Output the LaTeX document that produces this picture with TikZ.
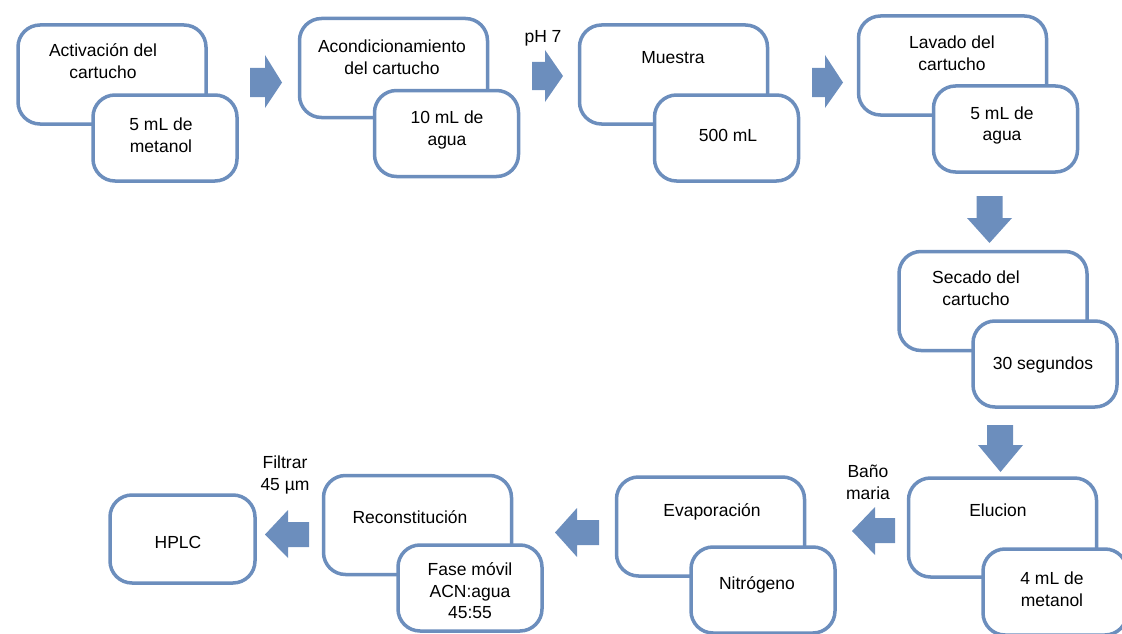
\documentclass[tikz,border=0pt]{standalone}
\usepackage{fontspec}
\setmainfont{Liberation Sans}
\definecolor{azulcaja}{RGB}{108,142,189}
\tikzset{
  caja/.style={draw=azulcaja, line width=3.5pt, rounded corners=22pt, fill=white,
    minimum width=188pt, minimum height=99pt, inner sep=0pt},
  cajita/.style={caja, minimum width=144pt, minimum height=86pt},
  texto/.style={align=center, inner sep=0pt, font=\fontsize{17.5}{21.5}\selectfont},
  flecha/.style={fill=azulcaja}
}

\begin{document}
\begin{tikzpicture}[x=1pt, y=-1pt]
\useasboundingbox (0,0) rectangle (1122,634);

% fila de arriba
\node[caja] (activ) at (112,74.5) {};
\node[cajita] (activ2) at (165,138) {};
\node[texto] (tactiv) at (103,61) {Activación del\\cartucho};
\node[texto] (tactiv2) at (161,135) {5 mL de\\metanol};

\node[caja] (acond) at (393.5,68) {};
\node[cajita] (acond2) at (446.5,133.5) {};
\node[texto] (tacond) at (392,57) {Acondicionamiento\\del cartucho};
\node[texto] (tacond2) at (447,130) {10 mL de\\agua};

\node[caja] (muestra) at (673.5,74.5) {};
\node[cajita] (muestra2) at (726.5,138) {};
\node[texto] (tmuestra) at (673,58) {Muestra};
\node[texto] (tmuestra2) at (728,135) {500 mL};

\node[caja] (lavado) at (952.5,65.5) {};
\node[cajita] (lavado2) at (1005.5,129) {};
\node[texto] (tlavado) at (952,53) {Lavado del\\cartucho};
\node[texto] (tlavado2) at (1002,125.5) {5 mL de\\agua};

% columna derecha
\node[caja] (secado) at (993,301) {};
\node[cajita] (secado2) at (1045,364) {};
\node[texto] (tsecado) at (976,288) {Secado del\\cartucho};
\node[texto] (tsecado2) at (1043,365) {30 segundos};

% fila de abajo
\node[caja] (elucion) at (1002.5,527.5) {};
\node[cajita] (elucion2) at (1055,592) {};
\node[texto] (telucion) at (998,510) {Elucion};
\node[texto] (telucion2) at (1052,589) {4 mL de\\metanol};

\node[caja] (evap) at (710.5,526.5) {};
\node[cajita] (evap2) at (763,590) {};
\node[texto] (tevap) at (712,512) {Evaporación};
\node[texto] (tevap2) at (757,585) {Nitrógeno};

\node[caja] (recons) at (417.5,525) {};
\node[cajita] (recons2) at (470,588) {};
\node[texto] (trecons) at (410,517) {Reconstitución};
\node[texto] (trecons2) at (470,591) {Fase móvil\\ACN:agua\\45:55};

\node[caja, minimum width=145pt, minimum height=88pt] (hplc) at (182.5,539) {};
\node[texto] (thplc) at (178,542) {HPLC};

% flechas
\fill[flecha] (250,68) -- (265,68) -- (265,55) -- (282,82.5) -- (265,108) -- (265,97) -- (250,97) -- cycle;
\fill[flecha] (532,62) -- (545,62) -- (545,50) -- (563,76) -- (545,102) -- (545,90) -- (532,90) -- cycle;
\fill[flecha] (812,68) -- (825,68) -- (825,55) -- (843,82.5) -- (825,108) -- (825,97) -- (812,97) -- cycle;
\fill[flecha] (976.5,196) -- (1002.5,196) -- (1002.5,218) -- (1012,218) -- (989.5,243) -- (967,218) -- (976.5,218) -- cycle;
\fill[flecha] (987,425) -- (1013,425) -- (1013,445) -- (1023,445) -- (1000.5,472) -- (978,445) -- (987,445) -- cycle;
\fill[flecha] (895,518) -- (875,518) -- (875,507) -- (852,531) -- (875,555) -- (875,543) -- (895,543) -- cycle;
\fill[flecha] (599,520) -- (577,520) -- (577,508) -- (555,532.5) -- (577,557) -- (577,545) -- (599,545) -- cycle;
\fill[flecha] (309,522) -- (288,522) -- (288,510) -- (265,534.5) -- (288,558) -- (288,547) -- (309,547) -- cycle;

% etiquetas
\node[texto] (ph) at (543,38) {pH 7};
\node[texto] (bano) at (868,482.5) {Baño\\maria};
\node[texto] (filtrar) at (285,475) {Filtrar\\45 µm};
\end{tikzpicture}
\end{document}
